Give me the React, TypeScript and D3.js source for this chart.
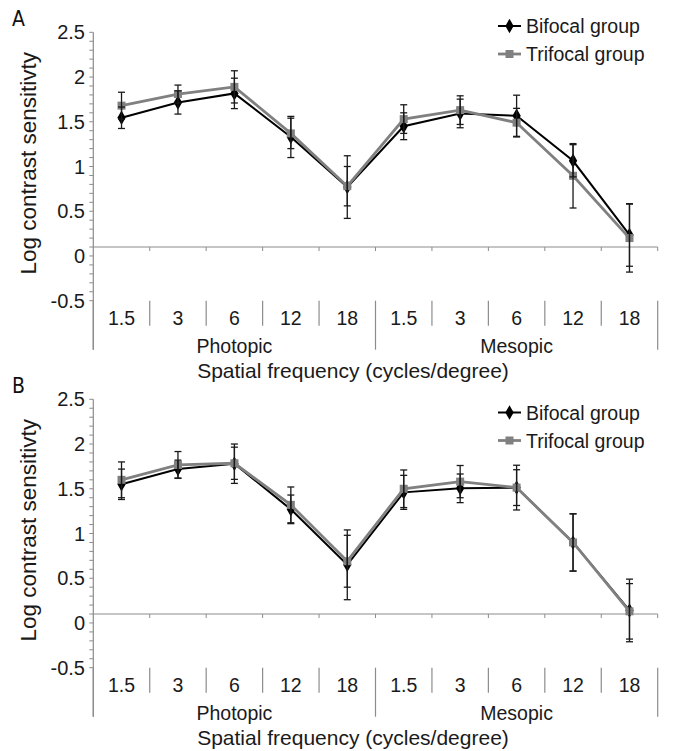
import * as d3 from "d3";

// categories
const freqs = ["1.5", "3", "6", "12", "18"];
const conditions = ["Photopic", "Mesopic"];
const yTicks = [2.5, 2, 1.5, 1, 0.5, 0, -0.5];
const seriesNames = ["Bifocal group", "Trifocal group"];

// panel A
const bifocalA = [1.545, 1.716, 1.817, 1.33, 0.77, 1.45, 1.593, 1.567, 1.064, 0.235];
const bifocalSdA = [0.12, 0.13, 0.17, 0.23, 0.35, 0.15, 0.16, 0.23, 0.18, 0.35];
const trifocalA = [1.68, 1.81, 1.89, 1.37, 0.78, 1.53, 1.63, 1.49, 0.896, 0.2];
const trifocalSdA = [0.15, 0.1, 0.18, 0.17, 0.22, 0.16, 0.16, 0.16, 0.36, 0.38];

// panel B
const bifocalB = [1.55, 1.72, 1.78, 1.27, 0.65, 1.46, 1.505, 1.513, 0.9, 0.14];
const bifocalSdB = [0.17, 0.1, 0.22, 0.16, 0.39, 0.19, 0.16, 0.25, 0.32, 0.35];
const trifocalB = [1.6, 1.766, 1.785, 1.32, 0.69, 1.5, 1.58, 1.513, 0.9, 0.13];
const trifocalSdB = [0.2, 0.15, 0.18, 0.2, 0.29, 0.21, 0.18, 0.2, 0.32, 0.31];

const FONT = "'Liberation Sans', Arial, sans-serif";
const AXIS = "#8c8c8c";
const GRAY = "#808080";

type PanelProps = {
  letter: string;
  top: number; // pixel y of 2.5
  legendY: number;
  bif: number[];
  bifSd: number[];
  tri: number[];
  triSd: number[];
};

function Panel({ letter, top, legendY, bif, bifSd, tri, triSd }: PanelProps) {
  const keys = conditions.flatMap((c) => freqs.map((f) => `${c}-${f}`));
  const x = d3.scaleBand().domain(keys).range([93.3, 657.7]).padding(0);
  const y = d3.scaleLinear().domain([-0.5, 2.5]).range([top + 268.4, top]);
  const cx = (i: number) => (x(keys[i]) as number) + x.bandwidth() / 2;
  const line = d3.line<number>().x((_, i) => cx(i)).y((d) => y(d));
  const baseY = y(0.1);
  const bottom = y(-0.5);
  const minor = d3.range(-5, 26).map((v) => v / 10);
  const bounds = d3.range(0, keys.length + 1).map((i) =>
    i < keys.length ? (x(keys[i]) as number) : x.range()[1]
  );
  const diamond = d3.symbol(d3.symbolDiamond, 60)() as string;

  const errBars = (m: number[], sd: number[]) =>
    m.map((v, i) => (
      <g key={i} stroke="#1a1a1a" strokeWidth={1.3}>
        <line x1={cx(i)} x2={cx(i)} y1={y(v + sd[i])} y2={y(v - sd[i])} />
        <line x1={cx(i) - 3.5} x2={cx(i) + 3.5} y1={y(v + sd[i])} y2={y(v + sd[i])} />
        <line x1={cx(i) - 3.5} x2={cx(i) + 3.5} y1={y(v - sd[i])} y2={y(v - sd[i])} />
      </g>
    ));

  const x0 = x.range()[0];
  const x1 = x.range()[1];
  const groupW = (x1 - x0) / 2;

  return (
    <g>
      <text x={12} y={top - 6} fontFamily="'Liberation Sans Narrow', 'DejaVu Sans Condensed', sans-serif" fontSize={21} fill="#111">
        {letter}
      </text>
      {/* y axis */}
      <line x1={x0} x2={x0} y1={top} y2={bottom + 49} stroke={AXIS} strokeWidth={1.2} />
      {minor.map((v) => (
        <line key={v} x1={x0 - 4} x2={x0} y1={y(v)} y2={y(v)} stroke={AXIS} strokeWidth={1} />
      ))}
      {yTicks.map((v) => (
        <text key={v} x={85} y={y(v) + 7} textAnchor="end" fontFamily={FONT} fontSize={20} fill="#1a1a1a">
          {v}
        </text>
      ))}
      <text
        transform={`translate(36,${top + 131}) rotate(-90)`}
        textAnchor="middle"
        fontFamily={FONT}
        fontSize={22.5}
        fill="#1a1a1a"
      >
        Log contrast sensitivty
      </text>
      {/* horizontal line with category ticks */}
      <line x1={x0} x2={x1} y1={baseY} y2={baseY} stroke={AXIS} strokeWidth={1.2} />
      {bounds.slice(1).map((b, i) => (
        <line key={i} x1={b} x2={b} y1={baseY} y2={baseY + 4} stroke={AXIS} strokeWidth={1} />
      ))}
      {/* category label area */}
      {bounds.map((b, i) => (
        <line
          key={i}
          x1={b}
          x2={b}
          y1={bottom}
          y2={i % 5 === 0 ? bottom + 49 : bottom + 25}
          stroke={AXIS}
          strokeWidth={1.2}
        />
      ))}
      {keys.map((k, i) => (
        <text key={k} x={cx(i)} y={bottom + 24} textAnchor="middle" fontFamily={FONT} fontSize={19.5} fill="#1a1a1a">
          {freqs[i % 5]}
        </text>
      ))}
      {conditions.map((c, i) => (
        <text key={c} x={x0 + groupW * (i + 0.5)} y={bottom + 52} textAnchor="middle" fontFamily={FONT} fontSize={19.5} fill="#1a1a1a">
          {c}
        </text>
      ))}
      <text x={353} y={bottom + 77} textAnchor="middle" fontFamily={FONT} fontSize={21} fill="#1a1a1a">
        Spatial frequency (cycles/degree)
      </text>

      {/* series */}
      <path d={line(bif) as string} fill="none" stroke="#000" strokeWidth={2} />
      {bif.map((v, i) => (
        <path key={i} d={diamond} transform={`translate(${cx(i)},${y(v)})`} fill="#000" />
      ))}
      <path d={line(tri) as string} fill="none" stroke={GRAY} strokeWidth={2.8} />
      {tri.map((v, i) => (
        <rect key={i} x={cx(i) - 4} y={y(v) - 4} width={8} height={8} fill={GRAY} />
      ))}
      {errBars(bif, bifSd)}
      {errBars(tri, triSd)}

      {/* legend */}
      <g fontFamily={FONT} fontSize={19.5} fill="#1a1a1a">
        <line x1={498} x2={521} y1={legendY} y2={legendY} stroke="#000" strokeWidth={2} />
        <path d={diamond} transform={`translate(509.5,${legendY})`} fill="#000" />
        <text x={526} y={legendY + 7}>{seriesNames[0]}</text>
        <line x1={498} x2={521} y1={legendY + 28} y2={legendY + 28} stroke={GRAY} strokeWidth={2.8} />
        <rect x={505.5} y={legendY + 24} width={8} height={8} fill={GRAY} />
        <text x={526} y={legendY + 35}>{seriesNames[1]}</text>
      </g>
    </g>
  );
}

export default function App() {
  return (
    <svg
      width={673}
      height={751}
      style={{ position: "absolute", left: 0, top: 0, background: "#fff" }}
    >
      <rect width={673} height={751} fill="#fff" />
      <Panel letter="A" top={32.3} legendY={26} bif={bifocalA} bifSd={bifocalSdA} tri={trifocalA} triSd={trifocalSdA} />
      <Panel letter="B" top={399.3} legendY={412.5} bif={bifocalB} bifSd={bifocalSdB} tri={trifocalB} triSd={trifocalSdB} />
    </svg>
  );
}
